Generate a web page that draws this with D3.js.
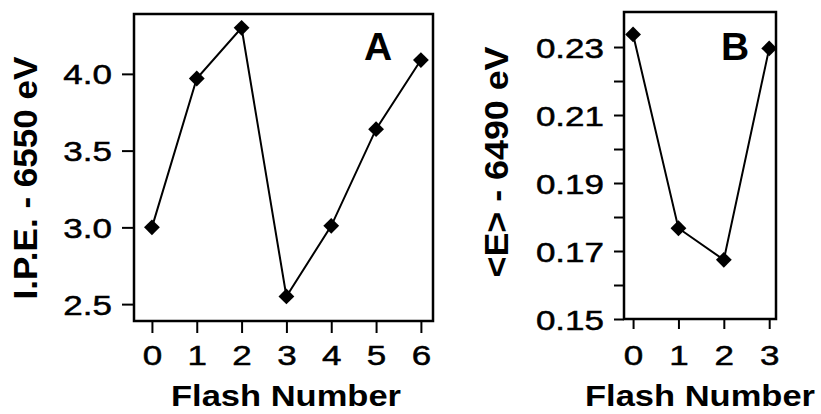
<!DOCTYPE html>
<html>
<head>
  <meta charset="UTF-8">
  <title>Flash number</title>
  <style>
    body { margin: 0; background: #fff; }
    svg { display: block; }
  </style>
</head>
<body>
  <svg width="821" height="414"></svg>
  <script src="https://d3js.org/d3.v7.min.js"></script>
  <script>
    // Panel A data
    const flashA = [0, 1, 2, 3, 4, 5, 6];
    const ipeA = [3.00, 3.97, 4.30, 2.55, 3.01, 3.64, 4.09];
    const yTicksA = [2.5, 3.0, 3.5, 4.0];
    const yLabelsA = ["2.5", "3.0", "3.5", "4.0"];

    // Panel B data
    const flashB = [0, 1, 2, 3];
    const energyB = [0.2337, 0.1767, 0.1674, 0.2296];
    const yTicksB = [0.15, 0.16, 0.17, 0.18, 0.19, 0.20, 0.21, 0.22, 0.23];
    const yLabelsB = ["0.15", "", "0.17", "", "0.19", "", "0.21", "", "0.23"];

    const svg = d3.select("svg");
    const font = "'Liberation Sans', Arial, Helvetica, sans-serif";

    function panel(opts) {
      const x = d3.scaleLinear().domain(opts.xDomain).range([opts.left, opts.right]);
      const y = d3.scaleLinear().domain(opts.yDomain).range([opts.bottom, opts.top]);
      const g = svg.append("g");

      // y axis
      const yAxis = g.append("g")
        .attr("transform", `translate(${opts.left},0)`)
        .call(d3.axisLeft(y)
          .tickValues(opts.yTicks)
          .tickFormat((d, i) => opts.yLabels[i])
          .tickSize(opts.tick)
          .tickSizeOuter(0));
      yAxis.select(".domain").remove();
      yAxis.selectAll("line").attr("stroke", "#000").attr("stroke-width", 2);
      yAxis.selectAll("text")
        .attr("x", null).attr("dy", null)
        .attr("transform", `translate(${-opts.tick - 10},10) scale(1.25,1)`)
        .attr("text-anchor", "end")
        .attr("fill", "#000")
        .attr("stroke", "#000")
        .attr("stroke-width", 0.5)
        .style("font-family", font)
        .style("font-size", "28px");

      // x axis
      const xAxis = g.append("g")
        .attr("transform", `translate(0,${opts.bottom})`)
        .call(d3.axisBottom(x)
          .tickValues(opts.xData)
          .tickFormat(d3.format("d"))
          .tickSize(opts.tick)
          .tickSizeOuter(0));
      xAxis.select(".domain").remove();
      xAxis.selectAll("line").attr("stroke", "#000").attr("stroke-width", 2);
      xAxis.selectAll("text")
        .attr("y", null).attr("dy", null)
        .attr("transform", `translate(0,${365 - opts.bottom}) scale(1.25,1)`)
        .attr("text-anchor", "middle")
        .attr("fill", "#000")
        .attr("stroke", "#000")
        .attr("stroke-width", 0.5)
        .style("font-family", font)
        .style("font-size", "28px");

      // frame
      g.append("rect")
        .attr("x", opts.left).attr("y", opts.top)
        .attr("width", opts.right - opts.left)
        .attr("height", opts.bottom - opts.top)
        .attr("fill", "none")
        .attr("stroke", "#000")
        .attr("stroke-width", 2.5);

      // line + diamonds
      const pts = opts.xData.map((d, i) => [d, opts.yData[i]]);
      g.append("path")
        .datum(pts)
        .attr("fill", "none")
        .attr("stroke", "#000")
        .attr("stroke-width", 2)
        .attr("d", d3.line().x(d => x(d[0])).y(d => y(d[1])));

      g.selectAll(".pt")
        .data(pts)
        .join("path")
        .attr("class", "pt")
        .attr("d", d3.symbol().type(d3.symbolSquare).size(125))
        .attr("transform", d => `translate(${x(d[0])},${y(d[1])}) rotate(45)`)
        .attr("fill", "#000");

      // panel letter
      g.append("text")
        .attr("x", opts.letterX).attr("y", 60)
        .attr("text-anchor", "middle")
        .style("font-family", font)
        .style("font-weight", "bold")
        .style("font-size", "39px")
        .text(opts.letter);

      // axis titles
      g.append("text")
        .attr("x", opts.xTitleX).attr("y", 406)
        .attr("text-anchor", "middle")
        .attr("textLength", 230)
        .attr("lengthAdjust", "spacingAndGlyphs")
        .style("font-family", font)
        .style("font-weight", "bold")
        .style("font-size", "29px")
        .text("Flash Number");

      g.append("text")
        .attr("transform", `translate(${opts.yTitleX},${opts.yTitleY}) rotate(-90)`)
        .attr("text-anchor", "middle")
        .attr("textLength", opts.yTitleLen)
        .attr("lengthAdjust", "spacingAndGlyphs")
        .style("font-family", font)
        .style("font-weight", "bold")
        .style("font-size", "34px")
        .text(opts.yTitle);
    }

    panel({
      xData: flashA, yData: ipeA,
      xDomain: [-0.4, 6.27], yDomain: [2.39, 4.39],
      yTicks: yTicksA, yLabels: yLabelsA,
      left: 134, right: 433, top: 14, bottom: 321, tick: 12,
      letter: "A", letterX: 378,
      xTitleX: 286,
      yTitle: "I.P.E. - 6550 eV", yTitleX: 37, yTitleY: 178, yTitleLen: 243
    });

    panel({
      xData: flashB, yData: energyB,
      xDomain: [-0.2, 3.15], yDomain: [0.15, 0.2403],
      yTicks: yTicksB, yLabels: yLabelsB,
      left: 624, right: 776, top: 12, bottom: 319, tick: 10,
      letter: "B", letterX: 735,
      xTitleX: 700,
      yTitle: "<E> - 6490 eV", yTitleX: 508, yTitleY: 162, yTitleLen: 231
    });
  </script>
</body>
</html>
